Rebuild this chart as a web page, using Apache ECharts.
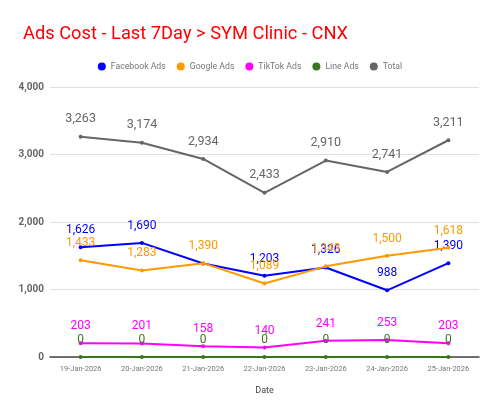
<!DOCTYPE html>
<html><head><meta charset="utf-8">
<script src="https://cdn.jsdelivr.net/npm/echarts@6/dist/echarts.min.js"></script>
<style>html,body{margin:0;padding:0;background:#fff}#c{width:500px;height:415px}</style>
</head><body><div id="c"></div>
<script>
const categories = ['19-Jan-2026','20-Jan-2026','21-Jan-2026','22-Jan-2026','23-Jan-2026','24-Jan-2026','25-Jan-2026'];
const facebookAds = [1626, 1690, 1386, 1203, 1326, 988, 1390];
const googleAds = [1433, 1283, 1390, 1089, 1343, 1500, 1618];
const tiktokAds = [203, 201, 158, 140, 241, 253, 203];
const lineAds = [0, 0, 0, 0, 0, 0, 0];
const total = [3263, 3174, 2934, 2433, 2910, 2741, 3211];
const yTicks = [0, 1000, 2000, 3000, 4000];

const fmt = v => Number(v).toLocaleString('en-US');
function mk(name, data, color, fontSize, hiddenLabels, z) {
  const hidden = hiddenLabels || [];
  return {
    name, type: 'line', color, z: z || 2,
    data: data.map((v, i) => hidden.includes(i) ? { value: v, label: { show: false } } : v),
    symbol: 'circle', symbolSize: 4,
    lineStyle: { width: 2, color },
    itemStyle: { color },
    label: { show: true, position: 'top', distance: 9, color, fontSize: fontSize || 12,
      fontFamily: 'Roboto', formatter: p => fmt(p.value) },
    emphasis: { disabled: true },
    animation: false
  };
}
const chart = echarts.init(document.getElementById('c'));
chart.setOption({
  animation: false,
  title: { text: 'Ads Cost - Last 7Day > SYM Clinic - CNX', left: 18, top: 20,
    textStyle: { color: '#ff0000', fontSize: 18.3, fontWeight: 'normal', fontFamily: 'Roboto' } },
  legend: { top: 57, left: 'center', icon: 'circle', itemWidth: 8, itemHeight: 8, itemGap: 11,
    textStyle: { color: '#757575', fontSize: 8.7, fontFamily: 'Roboto' } },
  grid: { left: 50, right: 21, top: 87, bottom: 58 },
  xAxis: { type: 'category', data: categories, boundaryGap: true,
    name: 'Date', nameLocation: 'middle', nameGap: 29,
    nameTextStyle: { color: '#444', fontSize: 9, fontFamily: 'Roboto' },
    axisLine: { lineStyle: { color: '#444', width: 1.5 } },
    axisTick: { show: false },
    axisLabel: { interval: 0, color: '#777', fontSize: 7.5, fontFamily: 'Roboto', margin: 8 } },
  yAxis: { type: 'value', min: yTicks[0], max: yTicks[yTicks.length - 1], interval: 1000,
    axisLine: { show: false }, axisTick: { show: false },
    splitLine: { lineStyle: { color: '#e0e0e0', width: 1 } },
    axisLabel: { color: '#666', fontSize: 10, fontWeight: 'bold', fontFamily: 'Roboto', margin: 6,
      formatter: v => fmt(v) } },
  series: [
    mk('Facebook Ads', facebookAds, '#0000ff', 12, [2], 2),
    mk('Google Ads', googleAds, '#ff9900', 12, [], 3),
    mk('TikTok Ads', tiktokAds, '#ff00ff', 12, [], 2),
    mk('Line Ads', lineAds, '#38761d', 12, [], 3),
    mk('Total', total, '#666666', 12.5, [], 2)
  ]
});
</script></body></html>
